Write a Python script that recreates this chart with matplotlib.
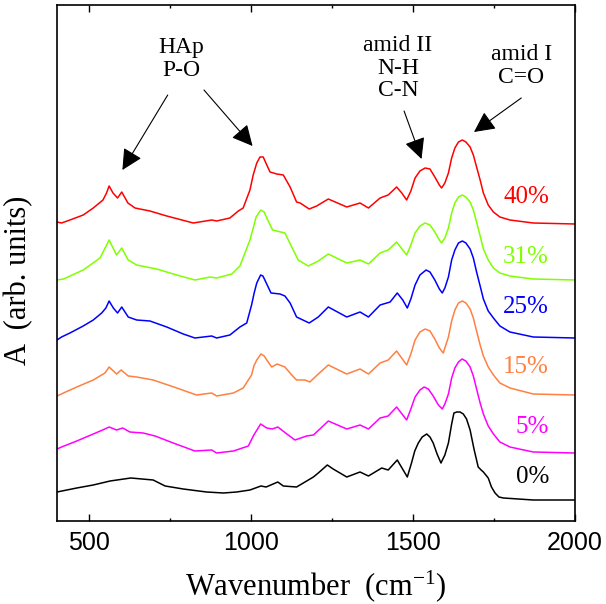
import matplotlib
matplotlib.use('Agg')
import matplotlib.pyplot as plt
from matplotlib.ticker import MultipleLocator

plt.rcParams['mathtext.fontset'] = 'custom'
plt.rcParams['mathtext.rm'] = 'Liberation Serif'
plt.rcParams['mathtext.it'] = 'Liberation Serif:italic'

# spectra (wavenumber in cm-1, absorbance in arb. units, already offset)
wn_40 = [400, 414, 440, 481, 512, 542, 553, 561, 573, 587, 600, 619, 641, 687, 739, 821, 878, 893, 934, 960,
         975, 996, 1006, 1017, 1027, 1037, 1048, 1058, 1079, 1099, 1120, 1140, 1151, 1179, 1202, 1238, 1295,
         1336, 1362, 1398, 1423, 1449, 1465, 1480, 1493, 1506, 1521, 1537, 1552, 1567, 1581, 1588, 1598, 1609,
         1619, 1629, 1640, 1652, 1663, 1676, 1686, 1696, 1707, 1717, 1732, 1748, 1768, 1799, 1871, 2000]
a_40 = [2.99, 2.98, 3.01, 3.06, 3.13, 3.21, 3.28, 3.35, 3.28, 3.23, 3.29, 3.18, 3.13, 3.10, 3.05, 2.98, 3.01,
        3.00, 3.03, 3.10, 3.13, 3.31, 3.46, 3.58, 3.64, 3.64, 3.56, 3.49, 3.47, 3.46, 3.34, 3.19, 3.18, 3.12,
        3.15, 3.22, 3.14, 3.18, 3.13, 3.23, 3.26, 3.34, 3.28, 3.21, 3.30, 3.43, 3.50, 3.53, 3.52, 3.44, 3.36,
        3.33, 3.38, 3.48, 3.63, 3.73, 3.79, 3.81, 3.79, 3.74, 3.66, 3.54, 3.41, 3.28, 3.16, 3.09, 3.04, 3.01,
        2.98, 2.97]

wn_31 = [400, 420, 481, 533, 561, 584, 600, 620, 646, 708, 770, 826, 873, 893, 940, 965, 996, 1006, 1015, 1029,
         1040, 1048, 1066, 1104, 1125, 1145, 1176, 1207, 1238, 1295, 1336, 1362, 1398, 1423, 1449, 1480, 1493,
         1506, 1521, 1537, 1552, 1567, 1581, 1588, 1598, 1609, 1619, 1629, 1640, 1652, 1663, 1676, 1686, 1696,
         1707, 1717, 1732, 1748, 1768, 1799, 1871, 2000]
a_31 = [2.41, 2.42, 2.51, 2.63, 2.81, 2.66, 2.73, 2.61, 2.56, 2.52, 2.46, 2.41, 2.44, 2.43, 2.47, 2.55, 2.81,
        2.93, 3.04, 3.11, 3.09, 3.03, 2.91, 2.88, 2.74, 2.61, 2.55, 2.60, 2.67, 2.58, 2.61, 2.57, 2.68, 2.71,
        2.79, 2.66, 2.76, 2.88, 2.95, 2.98, 2.96, 2.89, 2.81, 2.78, 2.83, 2.93, 3.08, 3.18, 3.24, 3.26, 3.24,
        3.19, 3.11, 2.99, 2.85, 2.72, 2.61, 2.53, 2.48, 2.45, 2.42, 2.41]

wn_25 = [400, 414, 440, 481, 512, 538, 551, 561, 574, 587, 600, 620, 646, 687, 739, 790, 826, 878, 893, 934,
         965, 986, 1001, 1009, 1017, 1029, 1036, 1042, 1061, 1089, 1104, 1120, 1140, 1179, 1207, 1238, 1295,
         1336, 1362, 1398, 1429, 1451, 1468, 1482, 1493, 1506, 1521, 1540, 1552, 1567, 1581, 1590, 1598, 1609,
         1619, 1629, 1640, 1652, 1663, 1676, 1686, 1696, 1707, 1717, 1732, 1748, 1768, 1799, 1871, 2000]
a_25 = [1.81, 1.84, 1.88, 1.95, 2.01, 2.08, 2.13, 2.20, 2.13, 2.08, 2.14, 2.04, 2.01, 2.00, 1.94, 1.87, 1.83,
        1.85, 1.83, 1.86, 1.94, 1.98, 2.16, 2.28, 2.38, 2.46, 2.45, 2.41, 2.28, 2.27, 2.25, 2.18, 2.04, 1.98,
        2.04, 2.14, 2.04, 2.09, 2.04, 2.16, 2.19, 2.28, 2.21, 2.13, 2.22, 2.36, 2.46, 2.51, 2.49, 2.41, 2.32,
        2.28, 2.33, 2.44, 2.61, 2.71, 2.78, 2.80, 2.78, 2.72, 2.63, 2.49, 2.35, 2.22, 2.10, 2.03, 1.95, 1.89,
        1.84, 1.83]

wn_15 = [400, 420, 461, 512, 548, 561, 584, 598, 620, 646, 697, 770, 831, 878, 893, 945, 975, 1001, 1008, 1017,
         1030, 1040, 1048, 1063, 1080, 1104, 1125, 1140, 1166, 1181, 1207, 1238, 1295, 1336, 1362, 1398, 1423,
         1449, 1480, 1493, 1506, 1521, 1537, 1552, 1567, 1581, 1593, 1609, 1619, 1629, 1640, 1652, 1663, 1676,
         1686, 1696, 1707, 1717, 1732, 1748, 1768, 1799, 1871, 2000]
a_15 = [1.25, 1.28, 1.34, 1.41, 1.48, 1.54, 1.47, 1.51, 1.45, 1.44, 1.41, 1.33, 1.26, 1.28, 1.25, 1.28, 1.33,
        1.46, 1.55, 1.61, 1.67, 1.65, 1.61, 1.54, 1.57, 1.54, 1.46, 1.41, 1.41, 1.39, 1.47, 1.56, 1.47, 1.52,
        1.47, 1.58, 1.61, 1.70, 1.56, 1.67, 1.81, 1.89, 1.92, 1.90, 1.82, 1.73, 1.68, 1.84, 2.00, 2.11, 2.18,
        2.20, 2.18, 2.12, 2.03, 1.90, 1.76, 1.65, 1.54, 1.46, 1.38, 1.33, 1.27, 1.26]

wn_5 = [400, 414, 461, 512, 548, 561, 584, 603, 625, 666, 703, 759, 826, 878, 893, 945, 991, 1008, 1029, 1048,
        1065, 1082, 1110, 1135, 1171, 1192, 1212, 1238, 1295, 1336, 1362, 1398, 1423, 1449, 1480, 1493, 1506,
        1521, 1534, 1547, 1562, 1578, 1590, 1598, 1609, 1619, 1629, 1640, 1651, 1663, 1676, 1686, 1696, 1707,
        1717, 1732, 1748, 1768, 1799, 1871, 2000]
a_5 = [0.72, 0.74, 0.80, 0.87, 0.92, 0.94, 0.91, 0.93, 0.89, 0.88, 0.85, 0.78, 0.70, 0.71, 0.68, 0.70, 0.75,
       0.86, 0.97, 0.93, 0.92, 0.94, 0.87, 0.81, 0.85, 0.86, 0.92, 1.00, 0.92, 0.96, 0.92, 1.03, 1.05, 1.14,
       1.01, 1.12, 1.24, 1.31, 1.34, 1.32, 1.25, 1.16, 1.12, 1.17, 1.27, 1.43, 1.53, 1.59, 1.62, 1.60, 1.54,
       1.45, 1.32, 1.18, 1.07, 0.95, 0.87, 0.79, 0.74, 0.69, 0.68]

wn_0 = [400, 461, 512, 564, 628, 697, 734, 790, 862, 914, 955, 996, 1030, 1046, 1082, 1099, 1140, 1166, 1192,
        1207, 1235, 1253, 1295, 1336, 1362, 1403, 1423, 1451, 1482, 1495, 1505, 1516, 1528, 1542, 1552, 1562,
        1574, 1586, 1598, 1609, 1619, 1626, 1635, 1645, 1655, 1665, 1676, 1688, 1701, 1710, 1717, 1732, 1742,
        1753, 1765, 1779, 1871, 2000]
a_0 = [0.29, 0.33, 0.36, 0.40, 0.43, 0.41, 0.35, 0.32, 0.29, 0.28, 0.29, 0.31, 0.35, 0.34, 0.39, 0.35, 0.34,
       0.39, 0.44, 0.48, 0.56, 0.52, 0.44, 0.49, 0.45, 0.53, 0.51, 0.61, 0.44, 0.58, 0.70, 0.78, 0.84, 0.87,
       0.84, 0.78, 0.67, 0.58, 0.66, 0.78, 0.97, 1.08, 1.09, 1.09, 1.07, 1.02, 0.91, 0.72, 0.54, 0.51, 0.49,
       0.43, 0.34, 0.28, 0.24, 0.23, 0.21, 0.21]

series = [
    (wn_40, a_40, '40%', '#ff0000', 3.24),
    (wn_31, a_31, '31%', '#80ff00', 2.64),
    (wn_25, a_25, '25%', '#0000ff', 2.14),
    (wn_15, a_15, '15%', '#ff8040', 1.54),
    (wn_5, a_5, '5%', '#ff00ff', 0.94),
    (wn_0, a_0, '0%', '#000000', 0.44),
]

serif = 'Liberation Serif'

fig = plt.figure(figsize=(6.06, 6.04), dpi=100)
ax = fig.add_axes([57 / 606, 83 / 604, 518 / 606, 516 / 604])

for wn, a, lab, col, ylab in series:
    ax.plot(wn, a, color=col, lw=1.1)
    ax.text(1920, ylab, lab, color=col, fontsize=18, family=serif, ha='right', va='center')

ax.set_xlim(400, 2000)
ax.set_ylim(0, 5.16)

ax.xaxis.set_major_locator(MultipleLocator(500))
ax.xaxis.set_minor_locator(MultipleLocator(250))
ax.tick_params(axis='x', which='both', direction='in', top=True, bottom=True, width=1.0)
ax.tick_params(axis='x', which='major', length=5.3, labelsize=18, pad=7)
ax.tick_params(axis='x', which='minor', length=2.4)
ax.tick_params(axis='y', which='both', left=False, right=False, labelleft=False)
for lbl in ax.get_xticklabels():
    lbl.set_family('Liberation Sans')
for sp in ax.spines.values():
    sp.set_linewidth(1.2)

ax.set_xlabel('Wavenumber  (cm$^{-1}$)', fontsize=22, family=serif, labelpad=10)
ax.set_ylabel('A  (arb. units)', fontsize=22, family=serif)
ax.yaxis.set_label_coords(-0.045, 0.467)

# peak annotations
arrow = dict(arrowstyle='-|>', color='k', lw=0.8, mutation_scale=32, shrinkA=0, shrinkB=0)
ax.text(785, 4.62, 'HAp\nP-O', fontsize=17, family=serif, ha='center', va='center', linespacing=1.1)
ax.annotate('', xy=(602, 3.51), xytext=(742, 4.26), arrowprops=arrow)
ax.annotate('', xy=(1004, 3.75), xytext=(854, 4.31), arrowprops=arrow)
ax.text(1453, 4.53, 'amid II\nN-H\nC-N', fontsize=17, family=serif, ha='center', va='center', linespacing=1.1)
ax.annotate('', xy=(1526, 3.62), xytext=(1472, 4.10), arrowprops=arrow)
ax.text(1834, 4.55, 'amid I\nC=O', fontsize=17, family=serif, ha='center', va='center', linespacing=1.1)
ax.annotate('', xy=(1688, 3.89), xytext=(1834, 4.23), arrowprops=arrow)

fig.savefig('out.png', dpi=100)
